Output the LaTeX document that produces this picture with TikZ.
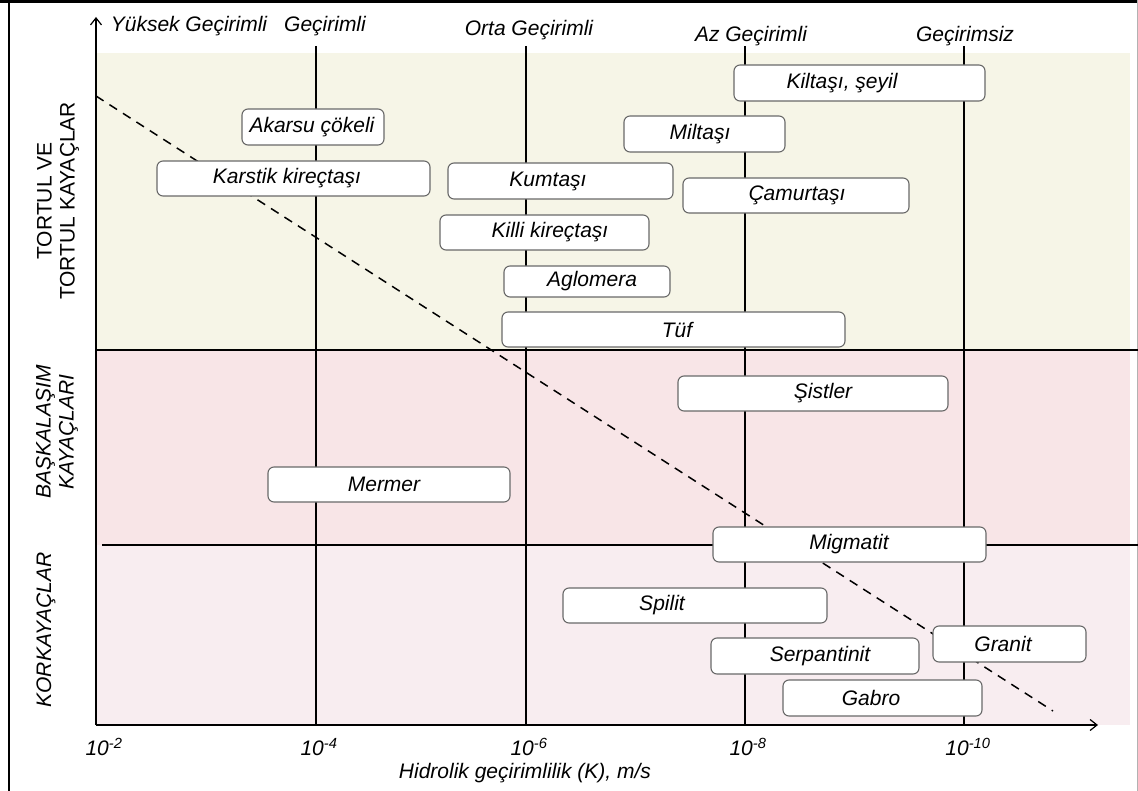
\documentclass[tikz,border=0pt]{standalone}
\usepackage{fontspec}
\setmainfont{Liberation Sans}
\usetikzlibrary{arrows.meta}
\definecolor{sedcol}{RGB}{246,245,231}
\definecolor{metcol}{RGB}{248,229,231}
\definecolor{igncol}{RGB}{248,237,240}
\definecolor{boxline}{RGB}{105,105,105}
\newcommand\rockbox[7]{%
  \pgfmathsetmacro\rw{#4-#2}\pgfmathsetmacro\rh{#5-#3}%
  \node[rock, minimum width=\rw pt, minimum height=\rh pt] (#1) at ({(#2+#4)/2},{(#3+#5)/2}) {};
  \node[rocklabel] (#1-t) at (#6,{(#3+#5)/2}) {#7};}
\begin{document}
\begin{tikzpicture}[x=1pt,y=-1pt,
  rock/.style={draw=boxline, fill=white, rounded corners=6pt, line width=1.1pt, inner sep=0pt},
  rocklabel/.style={font=\fontsize{21}{23}\selectfont\itshape, inner sep=0pt},
  toplabel/.style={font=\fontsize{21}{23}\selectfont\itshape, inner sep=0pt},
  sidelabel/.style={font=\fontsize{21}{23}\selectfont, align=center, rotate=90, inner sep=0pt},
  gridline/.style={line width=1.2pt},
  axisline/.style={line width=1.2pt, -{Straight Barb[length=7pt,width=11pt,line width=1.2pt]}}]
\useasboundingbox (0,0) rectangle (1138,791);
\fill[white] (0,0) rectangle (1138,791);
% frame
\draw[line width=3pt] (0,1.5) -- (1138,1.5);
\draw[line width=2.5pt] (9,0) -- (9,791);
\draw[line width=0.8pt, gray!60] (1137,0) -- (1137,791);
% background bands
\fill[sedcol] (97,53) rectangle (1130,350);
\fill[metcol] (97,350) rectangle (1130,545);
\fill[igncol] (97,545) rectangle (1130,725);
% grid lines
\foreach \gx/\gn in {316/a,526/b,745/c,964/d}{
  \coordinate (g\gn-top) at (\gx,46);
  \coordinate (g\gn-bot) at (\gx,725);
  \draw[gridline] (g\gn-top) -- (g\gn-bot);
}
% separators
\coordinate (s1l) at (96,350); \coordinate (s1r) at (1138,350);
\coordinate (s2l) at (102,545); \coordinate (s2r) at (1138,545);
\draw[gridline] (s1l) -- (s1r);
\draw[gridline] (s2l) -- (s2r);
% axes
\coordinate (o) at (96,725);
\coordinate (ytop) at (96,17);
\coordinate (xend) at (1098,725);
\draw[axisline] (o) -- (ytop);
\draw[axisline] (o) -- (xend);
% dashed trend line
\coordinate (d1) at (96,96);
\coordinate (d2) at (1053,711);
\draw[line width=1.5pt, dash pattern=on 9pt off 7pt] (d1) -- (d2);
% boxes
\rockbox{kil}{734}{65}{985}{101}{842}{Kiltaşı, şeyil}
\rockbox{aka}{242}{109}{384}{145}{312}{Akarsu çökeli}
\rockbox{kar}{157}{161}{430}{196}{287}{Karstik kireçtaşı}
\rockbox{mil}{624}{116}{785}{152}{700}{Miltaşı}
\rockbox{kum}{448}{163}{673}{199}{548}{Kumtaşı}
\rockbox{cam}{683}{178}{909}{213}{797}{Çamurtaşı}
\rockbox{kk}{440}{215}{649}{250}{550}{Killi kireçtaşı}
\rockbox{agl}{504}{266}{670}{297}{592}{Aglomera}
\rockbox{tuf}{502}{312}{845}{347}{677}{Tüf}
\rockbox{sis}{678}{376}{948}{411}{823}{Şistler}
\rockbox{mer}{268}{467}{510}{502}{384}{Mermer}
\rockbox{mig}{713}{527}{986}{562}{849}{Migmatit}
\rockbox{spi}{563}{588}{827}{623}{662}{Spilit}
\rockbox{ser}{711}{638}{919}{674}{820}{Serpantinit}
\rockbox{gra}{933}{626}{1086}{662}{1003}{Granit}
\rockbox{gab}{783}{680}{982}{716}{871}{Gabro}
% top labels
\node[toplabel] (t1) at (189,26) {Yüksek Geçirimli};
\node[toplabel] (t2) at (325,26) {Geçirimli};
\node[toplabel] (t3) at (529,30) {Orta Geçirimli};
\node[toplabel] (t4) at (751,36) {Az Geçirimli};
\node[toplabel] (t5) at (965,36) {Geçirimsiz};
% tick labels
\node[toplabel] (k2) at (104,747) {10\textsuperscript{-2}};
\node[toplabel] (k4) at (319,747) {10\textsuperscript{-4}};
\node[toplabel] (k6) at (529,747) {10\textsuperscript{-6}};
\node[toplabel] (k8) at (748,747) {10\textsuperscript{-8}};
\node[toplabel] (k10) at (968,747) {10\textsuperscript{-10}};
\node[toplabel] (xt) at (525,773) {Hidrolik geçirimlilik (K), m/s};
% side labels
\node[sidelabel] (l1) at (58,201) {TORTUL VE\\TORTUL KAYAÇLAR};
\node[sidelabel, font=\fontsize{21}{23}\selectfont\itshape] (l2) at (57,432) {BAŞKALAŞIM\\KAYAÇLARI};
\node[sidelabel, font=\fontsize{21}{23}\selectfont\itshape] (l3) at (46,630) {KORKAYAÇLAR};
\end{tikzpicture}
\end{document}
